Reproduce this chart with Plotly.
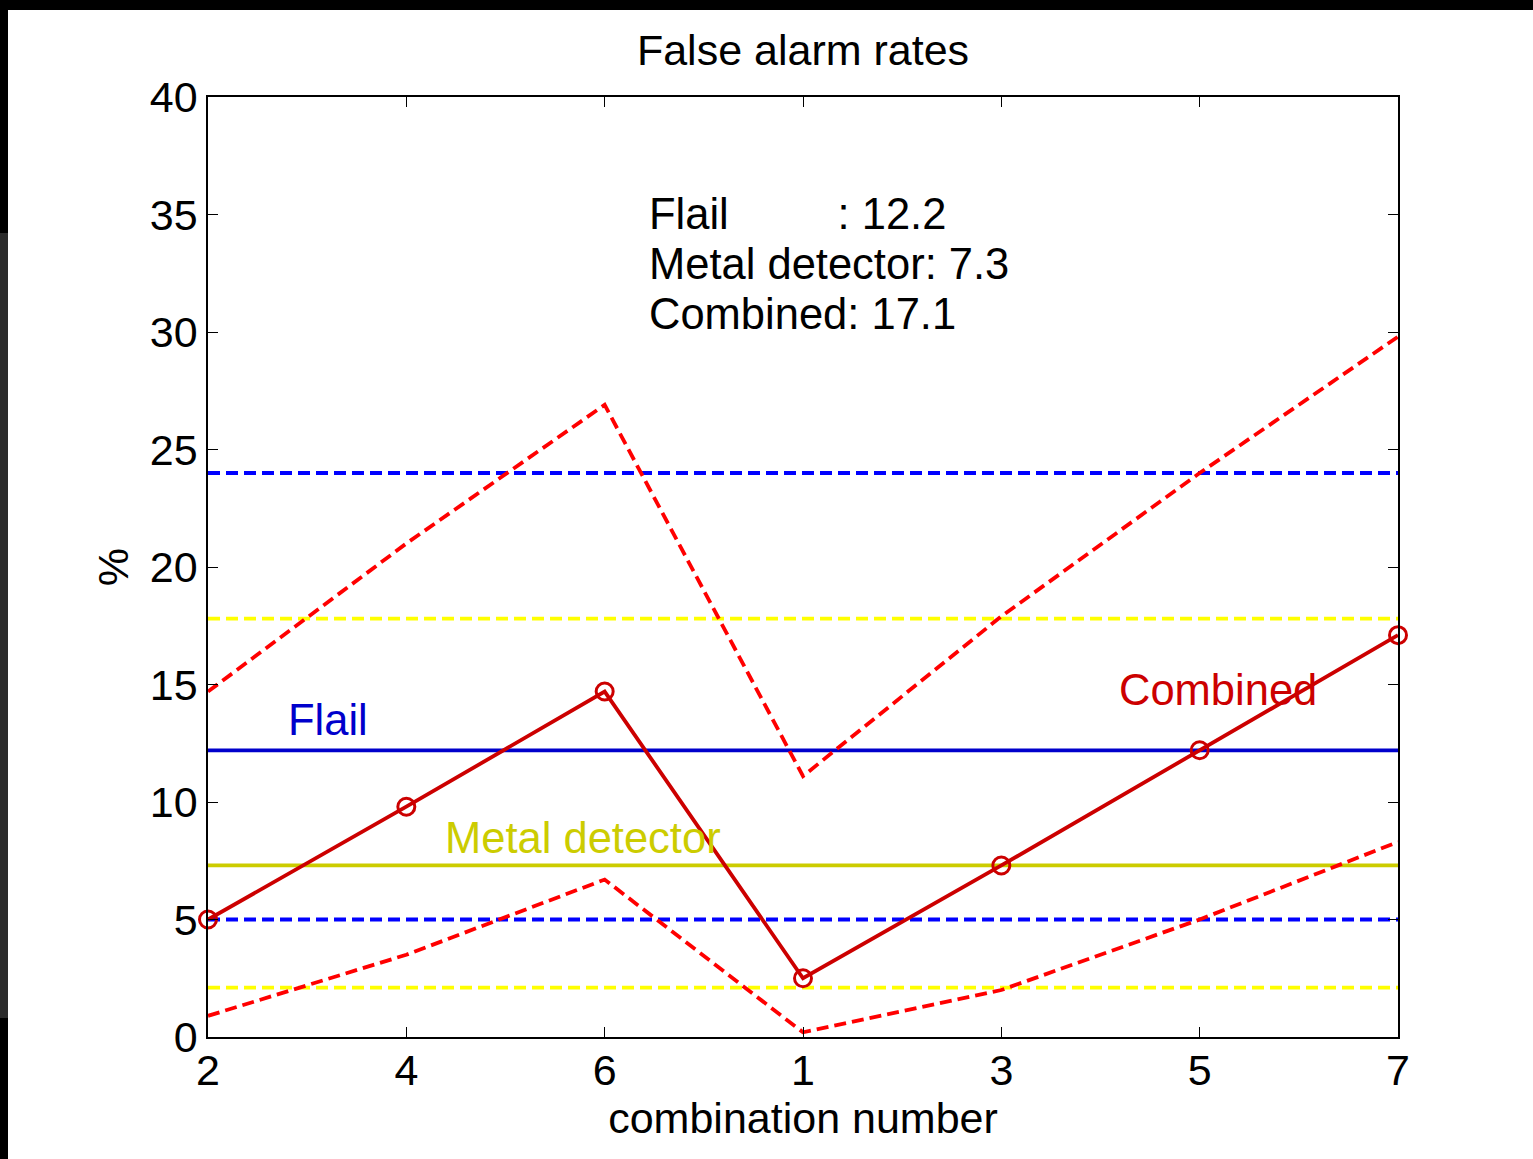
import plotly.graph_objects as go

# ---- data ----
categories = ["2", "4", "6", "1", "3", "5", "7"]
combined = [5.0, 9.8, 14.7, 2.5, 7.3, 12.2, 17.1]
combined_upper = [14.7, 21.0, 26.9, 11.1, 17.9, 24.0, 29.8]
combined_lower = [0.9, 3.5, 6.7, 0.2, 2.0, 5.0, 8.3]
flail_rate = 12.2
flail_upper = 24.0
flail_lower = 5.0
metal_rate = 7.3
metal_upper = 17.8
metal_lower = 2.1
y_ticks = [0, 5, 10, 15, 20, 25, 30, 35, 40]

FONT = "Liberation Sans, Arial, sans-serif"
FS = 43
FA = 43.5
DASH = "12px,6px"

fig = go.Figure()

def hline(val, color, dash=None, width=3.8):
    fig.add_trace(go.Scatter(
        x=categories, y=[val] * len(categories), mode="lines",
        line=dict(color=color, width=width, dash=dash),
        showlegend=False, hoverinfo="skip"))

hline(flail_upper, "#0000FF", DASH)
hline(flail_lower, "#0000FF", DASH)
hline(metal_upper, "#FFFF00", DASH)
hline(metal_lower, "#FFFF00", DASH)
hline(flail_rate, "#0000CC", None)
hline(metal_rate, "#CCCC00", None)

fig.add_trace(go.Scatter(x=categories, y=combined_upper, mode="lines",
                         line=dict(color="#FF0000", width=3.8, dash=DASH),
                         showlegend=False))
fig.add_trace(go.Scatter(x=categories, y=combined_lower, mode="lines",
                         line=dict(color="#FF0000", width=3.8, dash=DASH),
                         showlegend=False))
fig.add_trace(go.Scatter(x=categories, y=combined, mode="lines+markers",
                         line=dict(color="#CC0000", width=3.8),
                         marker=dict(symbol="circle-open", size=17,
                                     color="#CC0000", line=dict(width=3)),
                         cliponaxis=False, showlegend=False))

W, H = 1533, 1159
L, R, T, B = 208, 1398, 97, 1037
pw, ph = R - L, B - T

def px(x):
    return (x - L) / pw

def py(y):
    return (B - y) / ph

annos = []
def txt(s, x, y, color="black"):
    annos.append(dict(text=s, x=px(x), y=py(y), xref="paper", yref="paper",
                      xanchor="left", yanchor="middle", showarrow=False,
                      font=dict(family=FONT, size=FA, color=color)))

nb = "\u00a0"
txt("Flail" + nb * 9 + ": 12.2", 647, 214)
txt("Metal detector: 7.3", 647, 264)
txt("Combined: 17.1", 647, 314)
txt("Flail", 286, 720, "#0000CC")
txt("Metal detector", 443, 838, "#CCCC00")
txt("Combined", 1117, 690, "#CC0000")

# figure border (black/grey edge bands)
shapes = [
    dict(type="rect", xref="paper", yref="paper", x0=px(0), x1=px(W), y0=py(10), y1=py(0),
         fillcolor="black", line=dict(width=0), layer="above"),
    dict(type="rect", xref="paper", yref="paper", x0=px(0), x1=px(8), y0=py(233), y1=py(0),
         fillcolor="black", line=dict(width=0), layer="above"),
    dict(type="rect", xref="paper", yref="paper", x0=px(0), x1=px(8), y0=py(1018), y1=py(233),
         fillcolor="#2b2b2b", line=dict(width=0), layer="above"),
    dict(type="rect", xref="paper", yref="paper", x0=px(0), x1=px(8), y0=py(H), y1=py(1018),
         fillcolor="black", line=dict(width=0), layer="above"),
]

fig.update_layout(
    width=W, height=H,
    margin=dict(l=L, r=W - R, t=T, b=H - B),
    paper_bgcolor="white", plot_bgcolor="white",
    font=dict(family=FONT, size=FS, color="black"),
    title=dict(text="False alarm rates", x=0.5, xanchor="center", xref="paper",
               y=1 - 50 / H, yanchor="middle", font=dict(size=FS)),
    annotations=annos, shapes=shapes,
    xaxis=dict(type="category", categoryorder="array", categoryarray=categories,
               range=[0, len(categories) - 1], showgrid=False, zeroline=False,
               showline=True, linecolor="black", linewidth=1.5, mirror="ticks",
               ticks="inside", ticklen=10, tickwidth=1, tickcolor="black",
               tickfont=dict(size=FS), ticklabelstandoff=-5,
               title=dict(text="combination number", standoff=2, font=dict(size=FS))),
    yaxis=dict(range=[0, 40], tickvals=y_ticks, showgrid=False, zeroline=False,
               showline=True, linecolor="black", linewidth=1.5, mirror="ticks",
               ticks="inside", ticklen=10, tickwidth=1, tickcolor="black",
               tickfont=dict(size=FS),
               title=dict(text="%", standoff=8, font=dict(size=FS))),
)

fig.write_html("out.html", config={"displayModeBar": False},
               post_script="document.body.style.margin='0';")
